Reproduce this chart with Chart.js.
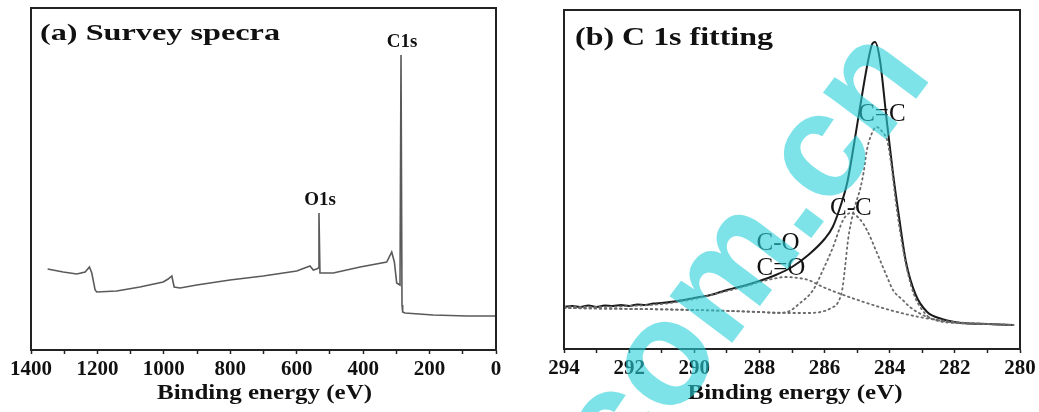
<!DOCTYPE html>
<html>
<head>
<meta charset="utf-8">
<script src="https://cdn.jsdelivr.net/npm/chart.js@4.4.1/dist/chart.umd.min.js"></script>
<style>
  body { margin: 0; background: #fff; }
  #wrap { position: relative; width: 1039px; height: 412px; }
  canvas { position: absolute; top: 0; }
</style>
</head>
<body>
<div id="wrap">
  <canvas id="survey" width="530" height="412" style="left:0px"></canvas>
  <canvas id="fit" width="509" height="412" style="left:530px"></canvas>
</div>
<script>
// (a) survey spectrum, binding energy (eV) vs intensity (a.u.)
const surveyEnergy = [1350, 1303, 1262, 1237, 1224, 1217, 1207, 1202, 1142, 1072, 1002, 987, 976, 969, 951, 901, 801, 701, 600, 560, 550, 540, 535, 533, 530, 528, 490, 409, 329, 314, 306, 299, 289, 286, 283, 281, 274, 189, 88, 0];
const surveyCounts = [81, 78, 76, 78, 83, 77, 60, 58, 59, 63, 68, 71, 74, 63, 62, 65, 70, 74, 79, 84, 80, 81, 82, 137, 77, 77, 77, 83, 88, 98, 88, 67, 65, 295, 45, 38, 37, 35, 34, 34];
const surveyTicks = [1400, 1200, 1000, 800, 600, 400, 200, 0];

// (b) C 1s high resolution + fitted components
const envEnergy = [294, 293.75, 293.5, 293.25, 293, 292.75, 292.5, 292.25, 292, 291.75, 291.5, 291.25, 291, 290.5, 290, 289.5, 289, 288.5, 288, 287.5, 287, 286.5, 286, 285.75, 285.5, 285.3, 285.1, 284.9, 284.7, 284.55, 284.45, 284.3, 284.1, 283.9, 283.7, 283.5, 283.2, 282.85, 282.4, 281.8, 281, 280.2];
const envCounts = [43, 44, 43, 44.5, 43, 44.5, 44, 45, 44, 45.5, 45, 46.5, 47, 49, 52, 55, 60, 64, 69, 75, 83, 95, 111, 123, 145, 168, 205, 245, 283, 305, 308, 290, 232, 177, 130, 88, 55, 38, 31, 27, 26, 25];

const ccDoubleEnergy = [294, 290, 288, 287, 286.5, 286, 285.8, 285.6, 285.46, 285.37, 285.28, 285.1, 284.9, 284.8, 284.7, 284.5, 284.4, 284.2, 284.08, 283.95, 283.82, 283.65, 283.45, 283.25, 283.0, 282.8, 282.5, 282, 281, 280.2];
const ccDoubleCounts = [42, 40, 38, 37, 37, 39, 42, 47, 60, 83, 110, 140, 162, 178, 200, 220, 223, 217, 210, 185, 150, 112, 78, 55, 40, 33, 29, 27, 26, 25];

const ccSingleEnergy = [294, 290, 288, 287.5, 287.15, 286.75, 286.35, 286.05, 285.74, 285.43, 285.2, 284.95, 284.7, 284.39, 284.08, 283.9, 283.6, 283.38, 282.85, 282.4, 281, 280.2];
const ccSingleCounts = [42, 40, 38, 37, 38, 47, 60, 80, 103, 130, 137, 132, 120, 97, 73, 60, 50, 43, 33, 29, 26, 25];

const coEnergy = [294, 293, 292, 291, 290, 289, 288.4, 288, 287.6, 287.2, 286.8, 286.5, 286.05, 285.5, 284.8, 284, 283.1, 282.5, 282, 281, 280.2];
const coCounts = [43, 43, 44, 46, 51, 59, 64, 68, 71, 73, 72, 70, 63, 56, 48, 40, 33, 30, 28, 26, 25];

const fitTicks = [294, 292, 290, 288, 286, 284, 282, 280];

const ink = '#111';
const serif = '"Liberation Serif", "Times New Roman", serif';

function pts(xs, ys) { return xs.map((x, i) => ({ x: x, y: ys[i] })); }

// text squeezed/stretched to a given width
function wideText(ctx, text, x, y, font, width, align) {
  ctx.save();
  ctx.font = font;
  const k = width / ctx.measureText(text).width;
  ctx.translate(align === 'center' ? x - width / 2 : x, y);
  ctx.scale(k, 1);
  ctx.fillStyle = ink;
  ctx.textAlign = 'left';
  ctx.textBaseline = 'alphabetic';
  ctx.fillText(text, 0, 0);
  ctx.restore();
}

function label(chart, text, xv, yv, font) {
  const ctx = chart.ctx;
  ctx.save();
  ctx.font = font;
  ctx.fillStyle = ink;
  ctx.textAlign = 'center';
  ctx.textBaseline = 'middle';
  ctx.fillText(text, chart.scales.x.getPixelForValue(xv), chart.scales.y.getPixelForValue(yv));
  ctx.restore();
}

function frame(chart) {
  const a = chart.chartArea, ctx = chart.ctx;
  ctx.save();
  ctx.strokeStyle = '#222';
  ctx.lineWidth = 2;
  ctx.strokeRect(a.left, a.top, a.right - a.left, a.bottom - a.top);
  ctx.restore();
}

function xAxis(min, max, step, every, h) {
  return {
    type: 'linear', min: min, max: max, reverse: true,
    afterFit: s => { s.height = h; },
    ticks: {
      stepSize: step, autoSkip: false, maxRotation: 0, padding: 3, color: ink,
      font: { family: serif, size: 21, weight: 'bold' },
      callback: v => (v % every === 0 ? v : '')
    },
    grid: { drawOnChartArea: false, tickLength: 4, color: '#222', tickWidth: 1.5 },
    border: { display: true, color: '#222', width: 2 }
  };
}

const common = {
  responsive: false, animation: false, events: [],
  plugins: { legend: { display: false }, tooltip: { enabled: false } }
};

new Chart(document.getElementById('survey'), {
  type: 'scatter',
  data: { datasets: [{
    data: pts(surveyEnergy, surveyCounts),
    showLine: true, pointRadius: 0, borderColor: '#5a5a5a', borderWidth: 1.6, tension: 0
  }] },
  options: Object.assign({}, common, {
    layout: { padding: { left: 31, right: 34, top: 8, bottom: 0 } },
    scales: {
      x: xAxis(0, 1400, 100, 200, 62),
      y: { display: false, min: 0, max: 342 }
    }
  }),
  plugins: [{
    id: 'decoA',
    afterDraw(chart) {
      const a = chart.chartArea;
      frame(chart);
      wideText(chart.ctx, '(a) Survey specra', a.left + 9, a.top + 32, 'bold 24px ' + serif, 240, 'left');
      wideText(chart.ctx, 'Binding energy (eV)', (a.left + a.right) / 2 + 1, a.bottom + 49, 'bold 20px ' + serif, 215, 'center');
      label(chart, 'C1s', 283, 308, 'bold 19px ' + serif);
      label(chart, 'O1s', 530, 150, 'bold 19px ' + serif);
    }
  }]
});

const dotted = { showLine: true, pointRadius: 0, borderColor: '#6a6a6a', borderWidth: 1.8,
  borderDash: [1.5, 3.6], borderCapStyle: 'round', cubicInterpolationMode: 'monotone' };

new Chart(document.getElementById('fit'), {
  type: 'scatter',
  data: { datasets: [
    Object.assign({ data: pts(coEnergy, coCounts) }, dotted),
    Object.assign({ data: pts(ccSingleEnergy, ccSingleCounts) }, dotted),
    Object.assign({ data: pts(ccDoubleEnergy, ccDoubleCounts) }, dotted),
    { data: pts(envEnergy, envCounts), showLine: true, pointRadius: 0, borderColor: '#1a1a1a',
      borderWidth: 2, cubicInterpolationMode: 'monotone' }
  ] },
  options: Object.assign({}, common, {
    layout: { padding: { left: 34, right: 19, top: 10, bottom: 0 } },
    scales: {
      x: xAxis(280, 294, 1, 2, 63),
      y: { display: false, min: 1, max: 340 }
    }
  }),
  plugins: [{
    id: 'decoB',
    afterDraw(chart) {
      const a = chart.chartArea, ctx = chart.ctx;
      frame(chart);
      wideText(ctx, '(b) C 1s fitting', a.left + 11, a.top + 35, 'bold 26px ' + serif, 198, 'left');
      wideText(ctx, 'Binding energy (eV)', (a.left + a.right) / 2 + 3, a.bottom + 50, 'bold 20px ' + serif, 215, 'center');
      const f = '25px ' + serif;
      label(chart, 'C=C', 284.24, 236, f);
      label(chart, 'C-C', 285.19, 142, f);
      label(chart, 'C-O', 287.43, 107, f);
      label(chart, 'C=O', 287.34, 82, f);
      // site watermark laid over the panel
      ctx.save();
      ctx.translate(92, 489);
      ctx.rotate(-53 * Math.PI / 180);
      ctx.font = 'bold 148px "Liberation Sans", Arial, sans-serif';
      ctx.fillStyle = 'rgba(40, 208, 216, 0.6)';
      ctx.textAlign = 'left';
      ctx.textBaseline = 'alphabetic';
      ctx.fillText('com.cn', 0, 0);
      ctx.restore();
    }
  }]
});
</script>
</body>
</html>
